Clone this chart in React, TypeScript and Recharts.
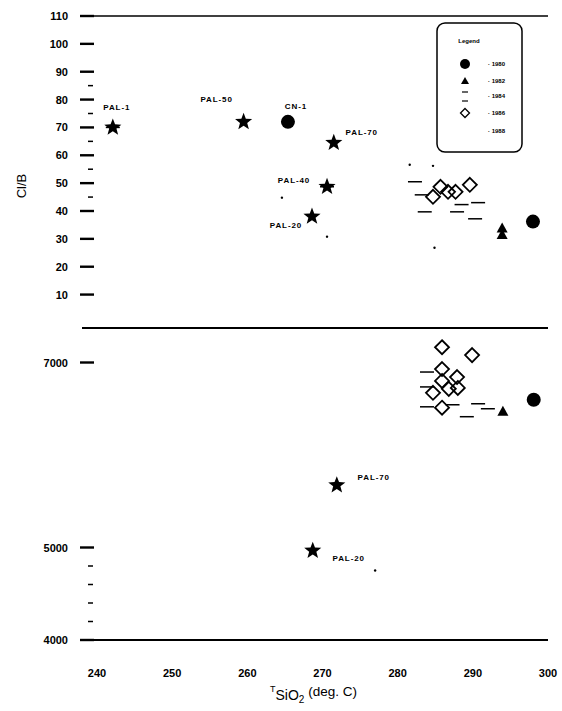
import React from 'react';
import { ScatterChart, Scatter, XAxis, YAxis, ReferenceLine } from 'recharts';

const FONT = '"Liberation Sans", Arial, sans-serif';

const xTicks = [240, 250, 260, 270, 280, 290, 300];
const topTicks = [10, 20, 30, 40, 50, 60, 70, 80, 90, 100, 110];
const topMinor = [45, 55, 65, 75, 85];
const bottomTicks = [4000, 5000, 7000];
const bottomMinor = [4200, 4400, 4600, 4800];

const legendTitle = 'Legend';
const legendLabels = ['1980', '1982', '1984', '1986', '1988'];

// Cl/B panel
const topStarNames = ['PAL-1', 'PAL-50', 'PAL-70', 'PAL-40', 'PAL-20'];
const topStarT = [242.1, 259.5, 271.5, 270.6, 268.6];
const topStarV = [70, 72, 64.5, 48.7, 38];

const topCircleNames = ['CN-1', ''];
const topCircleT = [265.4, 298.0];
const topCircleV = [72, 36.2];

const topTriangleT = [293.9, 293.9];
const topTriangleV = [33.7, 31.4];

const topDashT = [242.1, 270.6, 282.3, 283.2, 283.6, 287.9, 288.5, 290.7, 290.3];
const topDashV = [70, 48.7, 50.5, 45.8, 39.7, 39.7, 42.3, 43.0, 37.2];

const topDiamondT = [284.7, 285.7, 286.7, 287.7, 289.6];
const topDiamondV = [45.1, 48.7, 46.9, 46.9, 49.4];

const topDotT = [281.6, 284.7, 264.6, 270.6, 284.9];
const topDotV = [56.6, 56.2, 44.8, 30.8, 26.8];

// lower panel
const bottomStarNames = ['PAL-70', 'PAL-20'];
const bottomStarT = [271.9, 268.7];
const bottomStarV = [5674, 4966];

const bottomCircleT = [298.1];
const bottomCircleV = [6597];

const bottomTriangleT = [294.0];
const bottomTriangleV = [6468];

const bottomDashT = [283.9, 283.9, 283.9, 287.3, 289.2, 290.7, 292.0];
const bottomDashV = [6897, 6736, 6521, 6543, 6414, 6554, 6500];

const bottomDiamondT = [285.9, 289.9, 285.9, 285.9, 287.9, 288.0, 286.8, 284.7, 285.9];
const bottomDiamondV = [7165, 7080, 6929, 6801, 6843, 6725, 6715, 6672, 6511];

const bottomDotT = [277.0];
const bottomDotV = [4751];

// label placement next to the named markers (px)
const topLabelOffset: Record<string, [number, number]> = {
  'PAL-1': [4, -20],
  'PAL-50': [-27, -22],
  'CN-1': [8, -15],
  'PAL-70': [28, -10],
  'PAL-40': [-33, -6],
  'PAL-20': [-26, 9],
};
const bottomLabelOffset: Record<string, [number, number]> = {
  'PAL-70': [37, -8],
  'PAL-20': [36, 8],
};

const zip = (t: number[], v: number[], names?: string[]) =>
  t.map((x, i) => ({ t: x, v: v[i], name: names ? names[i] : '' }));

const starPath = (cx: number, cy: number, R: number, r: number) => {
  let d = '';
  for (let i = 0; i < 10; i++) {
    const a = ((-90 + i * 36) * Math.PI) / 180;
    const rad = i % 2 === 0 ? R : r;
    d += (i === 0 ? 'M' : 'L') + (cx + rad * Math.cos(a)).toFixed(2) + ',' + (cy + rad * Math.sin(a)).toFixed(2);
  }
  return d + 'Z';
};

const PointLabel = ({ cx, cy, name, offsets }: any) => {
  const off = offsets[name];
  if (!name || !off) return null;
  return (
    <text x={cx + off[0]} y={cy + off[1]} textAnchor="middle" dominantBaseline="central"
      fontFamily={FONT} fontSize={8} fontWeight={700} letterSpacing={0.9} fill="#000">
      {name}
    </text>
  );
};

const starShape = (offsets: any) => (p: any) => (
  <g>
    <path d={starPath(p.cx, p.cy, 9, 3.8)} fill="#000" />
    <PointLabel cx={p.cx} cy={p.cy} name={p.payload.name} offsets={offsets} />
  </g>
);

const circleShape = (offsets: any) => (p: any) => (
  <g>
    <circle cx={p.cx} cy={p.cy} r={7} fill="#000" />
    <PointLabel cx={p.cx} cy={p.cy} name={p.payload.name} offsets={offsets} />
  </g>
);

const triangleShape = (p: any) => (
  <polygon points={`${p.cx},${p.cy - 6} ${p.cx - 5.5},${p.cy + 4} ${p.cx + 5.5},${p.cy + 4}`} fill="#000" />
);

const dashShape = (p: any) => (
  <line x1={p.cx - 7} x2={p.cx + 7} y1={p.cy} y2={p.cy} stroke="#000" strokeWidth={1.5} />
);

const diamondShape = (p: any) => (
  <polygon points={`${p.cx},${p.cy - 7} ${p.cx + 7},${p.cy} ${p.cx},${p.cy + 7} ${p.cx - 7},${p.cy}`}
    fill="none" stroke="#000" strokeWidth={1.8} />
);

const dotShape = (p: any) => <circle cx={p.cx} cy={p.cy} r={1.2} fill="#000" />;

const makeYTick = (minor: number[]) => (props: any) => {
  const { x, y, payload } = props;
  const v = payload.value;
  if (minor.includes(v)) {
    return <line x1={x + 6} x2={x + 11} y1={y} y2={y} stroke="#000" strokeWidth={1.5} />;
  }
  return (
    <g>
      <line x1={x - 2} x2={x + 12} y1={y} y2={y} stroke="#000" strokeWidth={2.4} />
      <text x={x - 14} y={y} textAnchor="end" dominantBaseline="central"
        fontFamily={FONT} fontSize={11} fontWeight={700} fill="#000">
        {v}
      </text>
    </g>
  );
};

const XTick = (props: any) => {
  const { x, y, payload } = props;
  return (
    <text x={x} y={y + 36.5} textAnchor="middle" fontFamily={FONT} fontSize={11} fontWeight={700} fill="#000">
      {payload.value}
    </text>
  );
};

const YTitle = () => (
  <text x={21} y={186} transform="rotate(-90 21 186)" textAnchor="middle" dominantBaseline="central"
    fontFamily={FONT} fontSize={13} fill="#000">
    Cl/B
  </text>
);

// lower chart starts at page y = 320
const XTitle = () => (
  <text x={270} y={372} fontFamily={FONT} fill="#000">
    <tspan fontSize={9}>T</tspan>
    <tspan fontSize={14} dy={8}>SiO</tspan>
    <tspan fontSize={10} dy={3}>2</tspan>
    <tspan fontSize={13.5} dy={-7}> (deg. C)</tspan>
  </text>
);

const LegendBox = () => {
  const rowsY = [42, 59, 74, 91, 109];
  const ix = 29;
  return (
    <svg width={88} height={133} style={{ position: 'absolute', left: 436, top: 22 }}>
      <rect x={1} y={1} width={85} height={129} rx={8} fill="#fff" stroke="#000" strokeWidth={1.5} />
      <text x={33} y={21} textAnchor="middle" fontFamily={FONT} fontSize={6} fontWeight={700} fill="#000">
        {legendTitle}
      </text>
      <circle cx={ix} cy={rowsY[0]} r={5} fill="#000" />
      <polygon points={`${ix},${rowsY[1] - 4} ${ix - 4},${rowsY[1] + 3} ${ix + 4},${rowsY[1] + 3}`} fill="#000" />
      <line x1={ix - 3} x2={ix + 3} y1={rowsY[2] - 4} y2={rowsY[2] - 4} stroke="#000" strokeWidth={1.2} />
      <line x1={ix - 3} x2={ix + 3} y1={rowsY[2] + 5} y2={rowsY[2] + 5} stroke="#000" strokeWidth={1.2} />
      <polygon points={`${ix},${rowsY[3] - 4.5} ${ix + 4.5},${rowsY[3]} ${ix},${rowsY[3] + 4.5} ${ix - 4.5},${rowsY[3]}`}
        fill="none" stroke="#000" strokeWidth={1.3} />
      {legendLabels.map((l, i) => (
        <text key={l} x={52} y={rowsY[i]} dominantBaseline="central" fontFamily={FONT} fontSize={6}
          fontWeight={700} fill="#000">
          {'· ' + l}
        </text>
      ))}
    </svg>
  );
};

export default function App() {
  const topStars = zip(topStarT, topStarV, topStarNames);
  const topCircles = zip(topCircleT, topCircleV, topCircleNames);
  const bottomStars = zip(bottomStarT, bottomStarV, bottomStarNames);

  return (
    <div style={{ position: 'absolute', left: 0, top: 0, width: 562, height: 711, background: '#fff' }}>
      <div style={{ position: 'absolute', left: 0, top: 0 }}>
        <ScatterChart width={562} height={328} margin={{ top: 16, right: 14, bottom: 0, left: 0 }}>
          <XAxis type="number" dataKey="t" domain={[238, 300]} hide allowDataOverflow />
          <YAxis type="number" dataKey="v" domain={[-2, 110]} allowDataOverflow width={82}
            ticks={[...topTicks, ...topMinor]} interval={0} tick={makeYTick(topMinor)}
            tickLine={false} axisLine={false} tickSize={0} tickMargin={0} label={{ content: YTitle }} />
          <ReferenceLine y={110} stroke="#000" strokeWidth={1.5} />
          <Scatter data={zip(topDotT, topDotV)} shape={dotShape} isAnimationActive={false} />
          <Scatter data={zip(topDashT, topDashV)} shape={dashShape} isAnimationActive={false} />
          <Scatter data={zip(topDiamondT, topDiamondV)} shape={diamondShape} isAnimationActive={false} />
          <Scatter data={zip(topTriangleT, topTriangleV)} shape={triangleShape} isAnimationActive={false} />
          <Scatter data={topCircles} shape={circleShape(topLabelOffset)} isAnimationActive={false} />
          <Scatter data={topStars} shape={starShape(topLabelOffset)} isAnimationActive={false} />
        </ScatterChart>
      </div>
      <div style={{ position: 'absolute', left: 0, top: 320 }}>
        <ScatterChart width={562} height={391} margin={{ top: 8, right: 14, bottom: 31, left: 0 }}>
          <XAxis type="number" dataKey="t" domain={[238, 300]} allowDataOverflow ticks={xTicks} interval={0}
            tick={<XTick />} tickLine={false} axisLine={false} tickSize={0} tickMargin={0} height={40}
            label={{ content: XTitle }} />
          <YAxis type="number" dataKey="v" domain={[4000, 7373]} allowDataOverflow width={82}
            ticks={[...bottomTicks, ...bottomMinor]} interval={0} tick={makeYTick(bottomMinor)}
            tickLine={false} axisLine={false} tickSize={0} tickMargin={0} />
          <ReferenceLine y={7373} stroke="#000" strokeWidth={2} />
          <ReferenceLine y={4000} stroke="#000" strokeWidth={2} />
          <Scatter data={zip(bottomDotT, bottomDotV)} shape={dotShape} isAnimationActive={false} />
          <Scatter data={zip(bottomDashT, bottomDashV)} shape={dashShape} isAnimationActive={false} />
          <Scatter data={zip(bottomDiamondT, bottomDiamondV)} shape={diamondShape} isAnimationActive={false} />
          <Scatter data={zip(bottomTriangleT, bottomTriangleV)} shape={triangleShape} isAnimationActive={false} />
          <Scatter data={zip(bottomCircleT, bottomCircleV)} shape={circleShape(bottomLabelOffset)} isAnimationActive={false} />
          <Scatter data={bottomStars} shape={starShape(bottomLabelOffset)} isAnimationActive={false} />
        </ScatterChart>
      </div>
      <LegendBox />
    </div>
  );
}
